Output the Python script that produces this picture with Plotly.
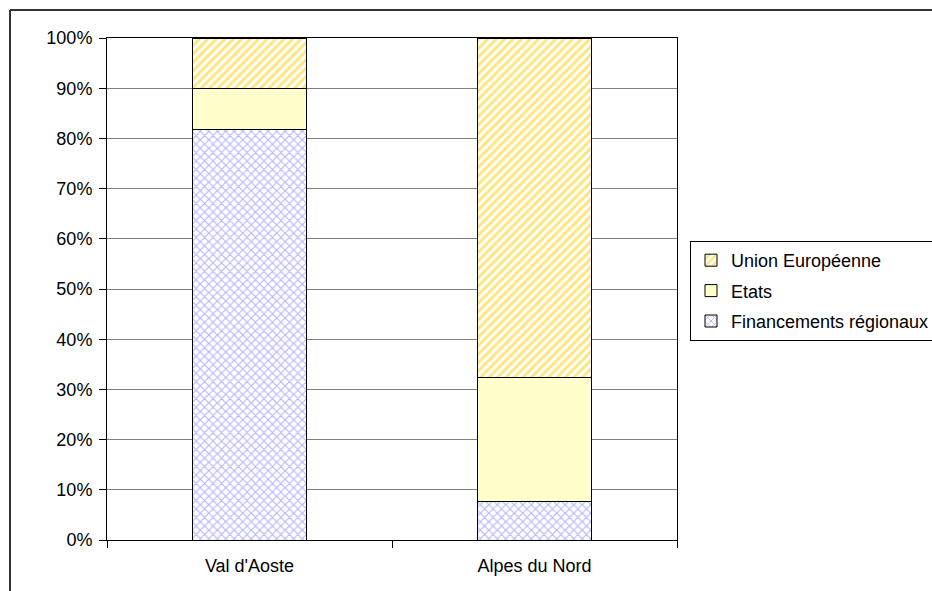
import plotly.graph_objects as go

categories = ["Val d'Aoste", "Alpes du Nord"]
series_names = ["Financements régionaux", "Etats", "Union Européenne"]
regional = [81.8, 7.6]
etats = [8.2, 24.7]
ue = [10.0, 67.7]
y_ticks = list(range(0, 101, 10))
y_tick_labels = [f"{v}%" for v in y_ticks]

W, H = 932, 591
L, R, T, B = 107, 677, 38, 540  # plot area in pixels

def px_x(x):
    return (x - L) / (R - L)

def px_y(y):
    return (B - y) / (B - T)

fig = go.Figure()
styles = [
    dict(color="white", pattern=dict(shape="x", fgcolor="#6a6aff", bgcolor="white", size=6, solidity=0.35)),
    dict(color="#FFFFCC"),
    dict(color="white", pattern=dict(shape="/", fgcolor="#FFCC00", bgcolor="white", size=6, solidity=0.5)),
]
ranks = [3, 2, 1]
for name, vals, st, rk in zip(series_names, [regional, etats, ue], styles, ranks):
    marker = dict(line=dict(color="black", width=1), **st)
    fig.add_trace(go.Bar(x=categories, y=vals, name=name, marker=marker,
                         width=0.4, legendgroup=name, legendrank=rk))

fig.update_layout(
    width=W, height=H,
    margin=dict(l=L, r=W - R, t=T, b=H - B, pad=0, autoexpand=False),
    barmode="stack",
    plot_bgcolor="white", paper_bgcolor="white",
    font=dict(family="Liberation Sans, Arial, sans-serif", size=18, color="black"),
    showlegend=True,
    legend=dict(
        xref="container", yref="container",
        x=690 / W, y=1 - 241 / H, xanchor="left", yanchor="top",
        traceorder="grouped", tracegroupgap=4,
        bordercolor="black", borderwidth=1, bgcolor="white",
        font=dict(size=18),
    ),
    xaxis=dict(
        range=[-0.5, 1.5], showline=True, linecolor="black", linewidth=1, mirror=True,
        ticks="outside", tickson="boundaries", ticklen=7, tickcolor="black",
        showgrid=False, fixedrange=True, ticklabelstandoff=9,
    ),
    yaxis=dict(
        range=[0, 100], tickvals=y_ticks, ticktext=y_tick_labels,
        showline=True, linecolor="black", linewidth=1, mirror=True,
        ticks="outside", ticklen=7, tickcolor="black",
        showgrid=True, gridcolor="#808080", gridwidth=1,
        zeroline=False, fixedrange=True, ticklabelstandoff=3,
    ),
    shapes=[
        dict(type="line", xref="paper", yref="paper",
             x0=px_x(10), x1=px_x(1000), y0=px_y(10), y1=px_y(10),
             line=dict(color="#333333", width=2)),
        dict(type="line", xref="paper", yref="paper",
             x0=px_x(10), x1=px_x(10), y0=px_y(10), y1=px_y(700),
             line=dict(color="#333333", width=2)),
    ],
)

fig.write_html("out.html")
